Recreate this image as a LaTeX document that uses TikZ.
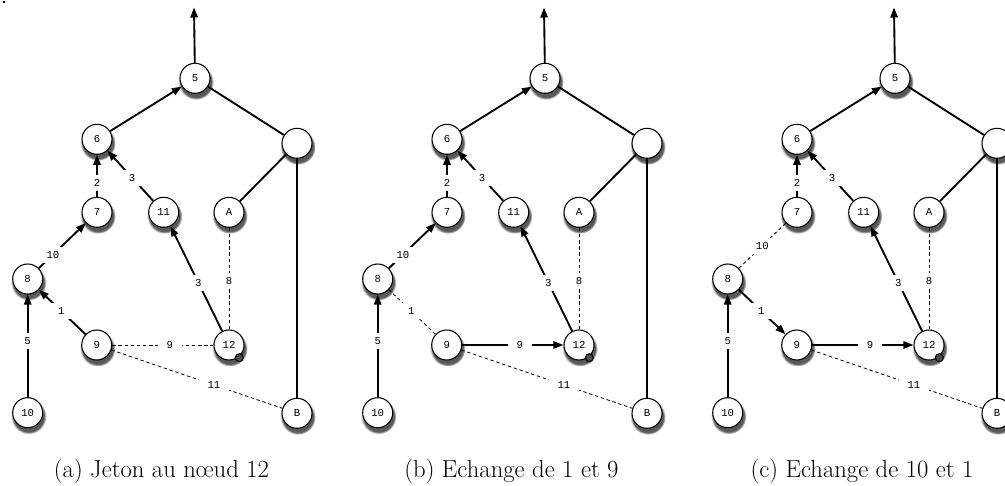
\documentclass[tikz,border=0pt]{standalone}
\usepackage{fontspec}
\newfontfamily\monof{Liberation Mono}
\usetikzlibrary{arrows.meta,shadows,fadings}
\newcommand\drawpanel[1]{%
  \node[vtx] (#1n5) at (195,78.3) {5};
  \node[vtx] (#1n6) at (97,139.3) {6};
  \node[vtx] (#1nu) at (297,143.3) {};
  \node[vtx] (#1n7) at (97,212.3) {7};
  \node[vtx] (#1n11) at (163.7,212.3) {11};
  \node[vtx] (#1nA) at (229,212.3) {A};
  \node[vtx] (#1n8) at (27.7,279) {8};
  \node[vtx] (#1n9) at (96.7,345) {9};
  \node[vtx] (#1n12) at (229,345) {12};
  \node[vtx] (#1n10) at (27.7,412.7) {10};
  \node[vtx] (#1nB) at (297,413.3) {B};
  \node[tok] (#1tok) at (239.3,357.7) {};
  \coordinate (#1top) at (194,7.5);
  \draw[arr] (#1n5) -- (#1top);
  \draw[arr] (#1n6) -- (#1n5);
  \draw[tree] (#1n5) -- (#1nu);
  \draw[tree] (#1nu) -- (#1nA);
  \draw[tree] (#1nu) -- (#1nB);
  \draw[arr] (#1n7) -- node[lbl,pos=0.33]{2} (#1n6);
  \draw[arr] (#1n11) -- node[lbl,pos=0.46]{3} (#1n6);
  \draw[arr] (#1n10) -- node[lbl,pos=0.55]{5} (#1n8);
  \draw[arr] (#1n12) -- node[lbl,pos=0.46]{3} (#1n11);
  \draw[dsh] (#1nA) -- node[lbl,pos=0.52]{8} (#1n12);
  \draw[dsh] (#1n9) -- node[lbl,pos=0.6]{11} (#1nB);
}
\begin{document}
\begin{tikzpicture}[x=0.75pt,y=-0.75pt,
  vtx/.style={circle, draw, line width=0.8pt, fill=white, minimum size=22.5pt, inner sep=0pt,
    font=\monof\fontsize{8}{9}\selectfont,
    circular drop shadow={shadow xshift=0.6pt, shadow yshift=-2.4pt, shadow scale=1.18, fill=black!65}},
  lbl/.style={fill=white, inner xsep=6.5pt, inner ysep=3.2pt, font=\monof\fontsize{8}{9}\selectfont},
  tree/.style={line width=1.4pt},
  arr/.style={line width=1.4pt, -{Triangle[length=7.5pt,width=5.5pt]}},
  dsh/.style={line width=0.6pt, dash pattern=on 2.6pt off 2pt},
  tok/.style={circle, draw, line width=0.8pt, fill=black!70, minimum size=6pt, inner sep=0pt},
  captxt/.style={font=\fontsize{18.5}{22}\selectfont, anchor=base, inner sep=0pt}
]
\useasboundingbox (0,0) rectangle (1005,485);
\fill (2.5,1) rectangle (4.5,3);
% panel a
\begin{scope}
  \drawpanel{a}
  \draw[arr] (an8) -- node[lbl,pos=0.3]{10} (an7);
  \draw[arr] (an9) -- node[lbl,pos=0.52]{1} (an8);
  \draw[dsh] (an9) -- node[lbl,pos=0.57]{9} (an12);
\end{scope}
% panel b
\begin{scope}[shift={(350,0)}]
  \drawpanel{b}
  \draw[arr] (bn8) -- node[lbl,pos=0.3]{10} (bn7);
  \draw[dsh] (bn9) -- node[lbl,pos=0.52]{1} (bn8);
  \draw[arr] (bn9) -- node[lbl,pos=0.57]{9} (bn12);
\end{scope}
% panel c
\begin{scope}[shift={(700,0)}]
  \drawpanel{c}
  \draw[dsh] (cn8) -- node[lbl,pos=0.5]{10} (cn7);
  \draw[arr] (cn8) -- node[lbl,pos=0.48]{1} (cn9);
  \draw[arr] (cn9) -- node[lbl,pos=0.57]{9} (cn12);
\end{scope}
\node[captxt] (capa) at (161.5,477) {(a) Jeton au n\oe ud 12};
\node[captxt] (capb) at (511.5,477) {(b) Echange de 1 et 9};
\node[captxt] (capc) at (862,477) {(c) Echange de 10 et 1};
\end{tikzpicture}
\end{document}
